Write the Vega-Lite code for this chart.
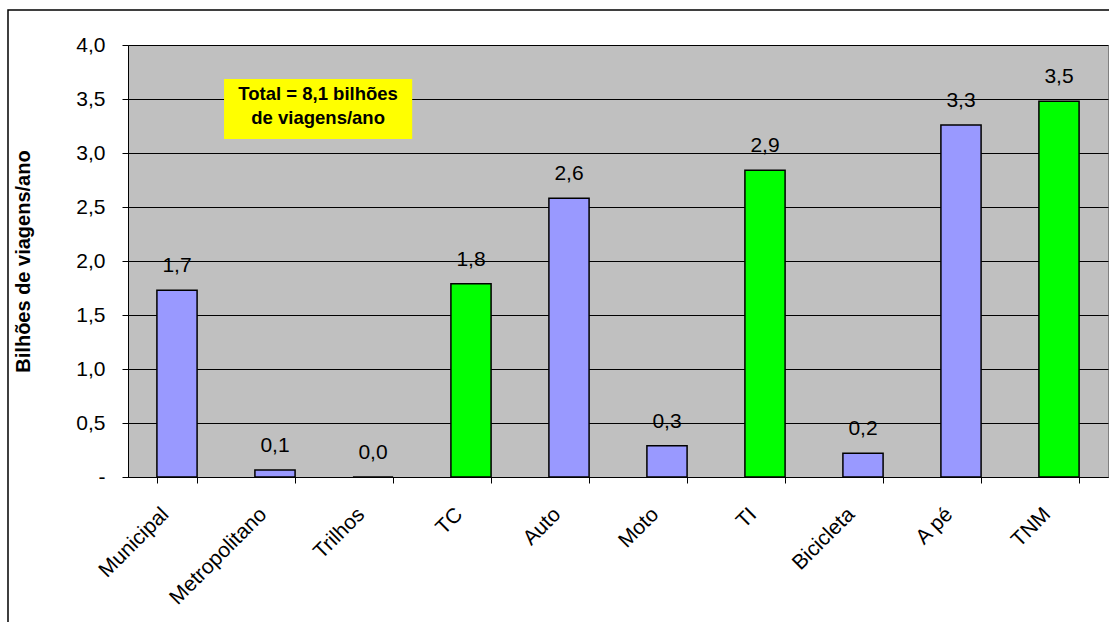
{
  "$schema": "https://vega.github.io/schema/vega-lite/v6.json",
  "width": 980,
  "height": 432,
  "autosize": {"type": "none"},
  "padding": {"left": 128, "top": 45, "right": 1, "bottom": 145},
  "background": "#FFFFFF",
  "config": {
    "font": "Liberation Sans",
    "view": {"stroke": "#808080", "strokeWidth": 1, "fill": "#C0C0C0"},
    "axis": {"labelFont": "Liberation Sans", "titleFont": "Liberation Sans", "labelColor": "#000000", "titleColor": "#000000"}
  },
  "datasets": {
    "modos": [
      {"modo": "Municipal", "valor": 1.73, "rotulo": "1,7", "tipo": "modo"},
      {"modo": "Metropolitano", "valor": 0.065, "rotulo": "0,1", "tipo": "modo"},
      {"modo": "Trilhos", "valor": 0.0, "rotulo": "0,0", "tipo": "modo"},
      {"modo": "TC", "valor": 1.79, "rotulo": "1,8", "tipo": "total"},
      {"modo": "Auto", "valor": 2.58, "rotulo": "2,6", "tipo": "modo"},
      {"modo": "Moto", "valor": 0.29, "rotulo": "0,3", "tipo": "modo"},
      {"modo": "TI", "valor": 2.84, "rotulo": "2,9", "tipo": "total"},
      {"modo": "Bicicleta", "valor": 0.22, "rotulo": "0,2", "tipo": "modo"},
      {"modo": "A pé", "valor": 3.26, "rotulo": "3,3", "tipo": "modo"},
      {"modo": "TNM", "valor": 3.48, "rotulo": "3,5", "tipo": "total"}
    ],
    "caixa": [
      {"x1": 0.98, "x2": 2.9, "y1": 3.13, "y2": 3.685, "xc": 1.94, "yc": 3.546, "texto": "Total = 8,1 bilhões\nde viagens/ano"}
    ],
    "moldura": [
      {"x1": -1.2245, "x2": 11, "y1": -2, "y2": 4.324}
    ]
  },
  "resolve": {"scale": {"x": "independent"}},
  "layer": [
    {
      "data": {"name": "modos"},
      "mark": {"type": "bar", "stroke": "#000000", "strokeWidth": 1.5},
      "encoding": {
        "x": {
          "field": "modo", "type": "nominal", "sort": null,
          "scale": {"paddingInner": 0.59, "paddingOuter": 0.295},
          "axis": {
            "title": null, "labelAngle": -45, "labelAlign": "right", "labelBaseline": "middle",
            "labelFontSize": 21, "labelPadding": 28, "labelOffset": -12,
            "tickSize": 6, "tickColor": "#000000", "domainColor": "#000000", "tickBand": "extent",
            "grid": false
          }
        },
        "y": {
          "field": "valor", "type": "quantitative",
          "scale": {"domain": [0, 4], "nice": false},
          "axis": {
            "title": "Bilhões de viagens/ano", "titleFontSize": 20, "titleFontWeight": "bold", "titlePadding": 42,
            "values": [0, 0.5, 1, 1.5, 2, 2.5, 3, 3.5, 4],
            "labelExpr": "datum.value == 0 ? '-' : replace(format(datum.value, '.1f'), '.', ',')",
            "labelFontSize": 21, "labelPadding": 17,
            "tickSize": 6, "tickColor": "#000000", "domainColor": "#000000",
            "grid": true, "gridColor": "#000000", "gridWidth": 1
          }
        },
        "color": {
          "field": "tipo", "type": "nominal",
          "scale": {"domain": ["modo", "total"], "range": ["#9999FF", "#00FF00"]},
          "legend": null
        }
      }
    },
    {
      "data": {"name": "modos"},
      "mark": {"type": "text", "dy": -24, "baseline": "middle", "align": "center", "fontSize": 21, "color": "#000000", "font": "Liberation Sans"},
      "encoding": {
        "x": {"field": "modo", "type": "nominal", "sort": null, "scale": {"paddingInner": 0.59, "paddingOuter": 0.295}, "axis": null},
        "y": {"field": "valor", "type": "quantitative", "scale": {"domain": [0, 4], "nice": false}},
        "text": {"field": "rotulo", "type": "nominal"}
      }
    },
    {
      "data": {"name": "caixa"},
      "mark": {"type": "rect", "fill": "#FFFF00", "strokeWidth": 0},
      "encoding": {
        "x": {"field": "x1", "type": "quantitative", "scale": {"domain": [0, 10], "nice": false, "zero": false}, "axis": null},
        "x2": {"field": "x2"},
        "y": {"field": "y1", "type": "quantitative"},
        "y2": {"field": "y2"}
      }
    },
    {
      "data": {"name": "caixa"},
      "mark": {"type": "text", "fontSize": 18.5, "fontWeight": "bold", "align": "center", "baseline": "middle", "lineBreak": "\n", "lineHeight": 24, "color": "#000000", "font": "Liberation Sans"},
      "encoding": {
        "x": {"field": "xc", "type": "quantitative", "scale": {"domain": [0, 10], "nice": false, "zero": false}, "axis": null},
        "y": {"field": "yc", "type": "quantitative"},
        "text": {"field": "texto", "type": "nominal"}
      }
    },
    {
      "data": {"name": "moldura"},
      "mark": {"type": "rect", "fill": null, "fillOpacity": 0, "stroke": "#000000", "strokeWidth": 1.5, "clip": false},
      "encoding": {
        "x": {"field": "x1", "type": "quantitative", "scale": {"domain": [0, 10], "nice": false, "zero": false}, "axis": null},
        "x2": {"field": "x2"},
        "y": {"field": "y1", "type": "quantitative"},
        "y2": {"field": "y2"}
      }
    }
  ]
}
